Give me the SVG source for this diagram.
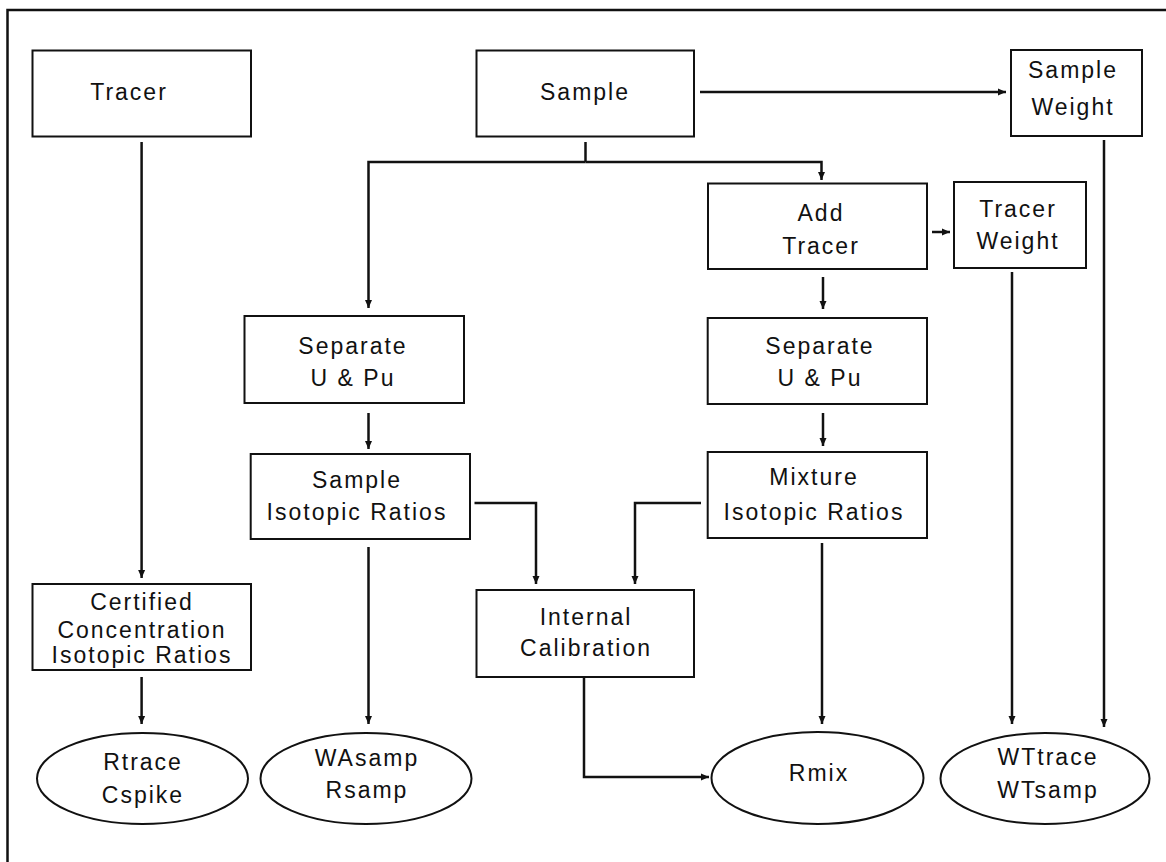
<svg xmlns="http://www.w3.org/2000/svg" width="1166" height="862" viewBox="0 0 1166 862">
<defs>
<style>
.box{fill:#fff;stroke:#111;stroke-width:2}
.ell{fill:#fff;stroke:#111;stroke-width:2}
.c{fill:none;stroke:#111;stroke-width:2.5}
.t{font-family:"Liberation Sans",Arial,sans-serif;font-size:23px;letter-spacing:2px;fill:#111;text-anchor:middle}
</style>
<marker id="ah" markerUnits="userSpaceOnUse" markerWidth="9" markerHeight="8" refX="8" refY="4" orient="auto">
<path d="M0,0.5 L8,4 L0,7.5 z" fill="#111"/>
</marker>
</defs>
<rect width="1166" height="862" fill="#fff"/>
<path d="M7.5,880 V10 H1166" fill="none" stroke="#111" stroke-width="2.5"/>

<g id="connectors">
<path class="c" d="M700,92 H1006" stroke-width="3.5" marker-end="url(#ah)"/>
<path class="c" d="M585.5,142 V162"/>
<path class="c" d="M585.5,162 H368.5 V308" marker-end="url(#ah)"/>
<path class="c" d="M585.5,162 H821.5 V180" marker-end="url(#ah)"/>
<path class="c" d="M141.6,142 V578" marker-end="url(#ah)"/>
<path class="c" d="M141.6,677 V724" marker-end="url(#ah)"/>
<path class="c" d="M368.5,413 V449" marker-end="url(#ah)"/>
<path class="c" d="M474.5,503 H536 V584" marker-end="url(#ah)"/>
<path class="c" d="M368.5,547 V724" marker-end="url(#ah)"/>
<path class="c" d="M932,232 H950" marker-end="url(#ah)"/>
<path class="c" d="M823,277 V309" marker-end="url(#ah)"/>
<path class="c" d="M823,413 V446" marker-end="url(#ah)"/>
<path class="c" d="M701,503 H635 V584" marker-end="url(#ah)"/>
<path class="c" d="M822,543 V724" marker-end="url(#ah)"/>
<path class="c" d="M584,678 V777 H709" marker-end="url(#ah)"/>
<path class="c" d="M1012,272 V724" marker-end="url(#ah)"/>
<path class="c" d="M1104,140 V727" marker-end="url(#ah)"/>
</g>

<g id="tracer"><rect class="box" x="32.5" y="50.5" width="218.5" height="86"/><text class="t" x="129" y="100">Tracer</text></g>
<g id="sample"><rect class="box" x="476.5" y="50.5" width="217.5" height="86"/><text class="t" x="585" y="100">Sample</text></g>
<g id="sample-weight"><rect class="box" x="1011" y="50" width="131" height="86"/><text class="t" x="1073" y="78">Sample</text><text class="t" x="1073" y="115">Weight</text></g>
<g id="add-tracer"><rect class="box" x="708" y="183.5" width="219" height="85.5"/><text class="t" x="821" y="221">Add</text><text class="t" x="821" y="254">Tracer</text></g>
<g id="tracer-weight"><rect class="box" x="954" y="182" width="132" height="86"/><text class="t" x="1018" y="217">Tracer</text><text class="t" x="1018" y="249">Weight</text></g>
<g id="separate-left"><rect class="box" x="244.5" y="316" width="219.5" height="87"/><text class="t" x="353" y="354">Separate</text><text class="t" x="353" y="386">U &amp; Pu</text></g>
<g id="separate-right"><rect class="box" x="707.7" y="318" width="219.3" height="86"/><text class="t" x="820" y="354">Separate</text><text class="t" x="820" y="386">U &amp; Pu</text></g>
<g id="sample-isotopic"><rect class="box" x="250.7" y="454" width="219.3" height="85"/><text class="t" x="357" y="488">Sample</text><text class="t" x="357" y="520">Isotopic Ratios</text></g>
<g id="mixture-isotopic"><rect class="box" x="707.7" y="452" width="219.3" height="86"/><text class="t" x="814" y="485">Mixture</text><text class="t" x="814" y="520">Isotopic Ratios</text></g>
<g id="certified"><rect class="box" x="32.5" y="584" width="218.5" height="86"/><text class="t" x="142" y="610">Certified</text><text class="t" x="142" y="638">Concentration</text><text class="t" x="142" y="663">Isotopic Ratios</text></g>
<g id="internal-calibration"><rect class="box" x="476.5" y="590" width="217.5" height="87"/><text class="t" x="586" y="625">Internal</text><text class="t" x="586" y="656">Calibration</text></g>
<g id="rtrace"><ellipse class="ell" cx="142.5" cy="778.5" rx="105.5" ry="45.5"/><text class="t" x="143" y="770">Rtrace</text><text class="t" x="143" y="803">Cspike</text></g>
<g id="wasamp"><ellipse class="ell" cx="366" cy="778.5" rx="105.5" ry="45.5"/><text class="t" x="367" y="766">WAsamp</text><text class="t" x="367" y="798">Rsamp</text></g>
<g id="rmix"><ellipse class="ell" cx="817.5" cy="778" rx="106" ry="46"/><text class="t" x="819" y="781">Rmix</text></g>
<g id="wttrace"><ellipse class="ell" cx="1045" cy="778.5" rx="104.5" ry="45.5"/><text class="t" x="1048" y="765">WTtrace</text><text class="t" x="1048" y="798">WTsamp</text></g>
</svg>
